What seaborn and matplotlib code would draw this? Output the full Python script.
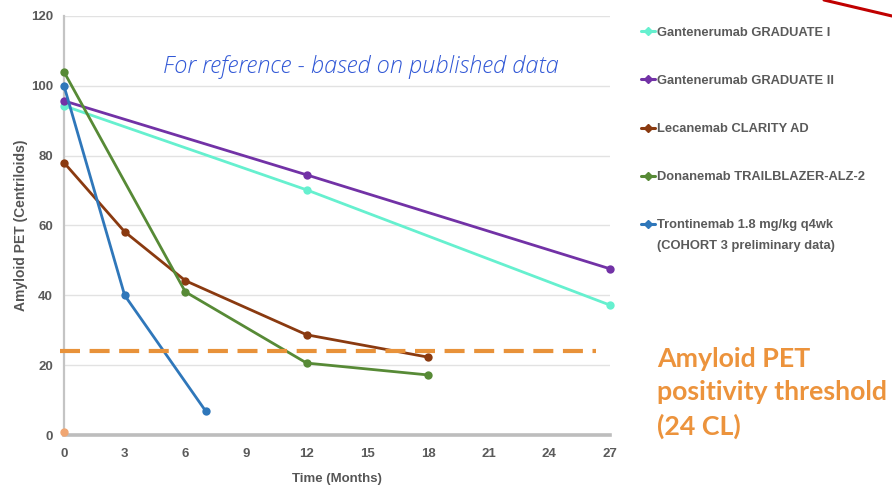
import matplotlib
matplotlib.use("Agg")
import matplotlib.pyplot as plt
from matplotlib.lines import Line2D
import seaborn as sns
import pandas as pd

# Amyloid PET (Centiloids) over time for each trial
grad1_months = [0, 12, 27]
grad1_values = [94.3, 70.2, 37.2]

grad2_months = [0, 12, 27]
grad2_values = [95.7, 74.5, 47.6]

lecan_months = [0, 3, 6, 12, 18]
lecan_values = [78.0, 58.2, 44.2, 28.7, 22.3]

donan_months = [0, 6, 12, 18]
donan_values = [104.0, 41.0, 20.6, 17.2]

tront_months = [0, 3, 7]
tront_values = [100.0, 40.0, 6.9]

baseline_months = [0]
baseline_values = [1.0]

series_names = [
    "Gantenerumab GRADUATE I",
    "Gantenerumab GRADUATE II",
    "Lecanemab CLARITY AD",
    "Donanemab TRAILBLAZER-ALZ-2",
    "Trontinemab 1.8 mg/kg q4wk",
]
tront_note = "(COHORT 3 preliminary data)"
series_colors = ["#66F0CF", "#7232A6", "#8A3A10", "#578A36", "#2F77BA"]

threshold_cl = 24
x_ticks = [0, 3, 6, 9, 12, 15, 18, 21, 24, 27]
y_ticks = [0, 20, 40, 60, 80, 100, 120]

frames = []
for name, months, values in zip(
    series_names,
    [grad1_months, grad2_months, lecan_months, donan_months, tront_months],
    [grad1_values, grad2_values, lecan_values, donan_values, tront_values],
):
    frames.append(pd.DataFrame({"Month": months, "CL": values, "Series": name}))
df = pd.concat(frames, ignore_index=True)

sns.set_style("white")
plt.rcParams["font.family"] = ["Liberation Sans", "DejaVu Sans"]

fig = plt.figure(figsize=(8.92, 4.86), dpi=100)
ax = fig.add_axes([64 / 892, 51 / 486, 546 / 892, 419 / 486])

palette = dict(zip(series_names, series_colors))
sns.lineplot(
    data=df, x="Month", y="CL", hue="Series", hue_order=series_names,
    palette=palette, marker="o", markersize=6, markeredgewidth=0,
    linewidth=2.0, ax=ax, legend=False, clip_on=False, zorder=3,
)
ax.plot(baseline_months, baseline_values, "o", color="#F0A672",
        markersize=5, clip_on=False, zorder=3)

# Positivity threshold
ax.plot([-0.2, 26.3], [threshold_cl, threshold_cl], color="#E8923A",
        linewidth=3, dashes=(4.8, 2.3), clip_on=False, zorder=4)

ax.set_xlim(0, 27)
ax.set_ylim(0, 120)
ax.set_xticks(x_ticks)
ax.set_yticks(y_ticks)
ax.grid(axis="y", color="#E2E2E2", linewidth=1.0)
ax.grid(axis="x", visible=False)
ax.set_axisbelow(True)
for side in ["top", "right"]:
    ax.spines[side].set_visible(False)
ax.spines["left"].set_color("#C4C4C4")
ax.spines["left"].set_linewidth(1.6)
ax.spines["bottom"].set_color("#BDBDBD")
ax.spines["bottom"].set_linewidth(2.6)
ax.tick_params(axis="both", length=0, labelsize=9.5, labelcolor="#5A5A5A")
ax.tick_params(axis="y", pad=8)
ax.tick_params(axis="x", pad=9)
for lbl in ax.get_xticklabels() + ax.get_yticklabels():
    lbl.set_fontweight("bold")

ax.set_xlabel("Time (Months)", fontsize=9.5, fontweight="bold", color="#555555", labelpad=10)
ax.set_ylabel("Amyloid PET (Centriloids)", fontsize=10, fontweight="bold", color="#555555")
ax.yaxis.set_label_coords(-36 / 546, 0.5)

# Legend
legend_font = {"family": ["Liberation Sans", "DejaVu Sans"], "weight": "bold", "size": 9.3}
handles = [Line2D([0], [0], color=c, linewidth=2.2, marker="D", markersize=4)
           for c in series_colors]
leg = fig.legend(handles, series_names, loc="upper left",
                 bbox_to_anchor=(629 / 892, 1 - 15 / 486), frameon=False,
                 handlelength=1.1, handletextpad=0.15, labelspacing=2.8,
                 prop=legend_font)
for t in leg.get_texts():
    t.set_color("#5A5A5A")
fig.text(657 / 892, 1 - 246 / 486, tront_note, color="#5A5A5A",
         va="center", ha="left", fontproperties=matplotlib.font_manager.FontProperties(**legend_font))

fig.text(163 / 892, 1 - 67 / 486, "For reference - based on published data",
         fontsize=17, color="#3158D6", style="italic", fontweight="light",
         family=["Open Sans", "DejaVu Sans"], va="center", ha="left")

fig.text(657 / 892, 1 - 347 / 486, "Amyloid PET\npositivity threshold\n(24 CL)",
         fontsize=19.3, color="#EC933C", fontweight="bold",
         family=["Lato", "Open Sans", "DejaVu Sans"], va="top", ha="left",
         linespacing=1.45)

# Accent stroke in the upper right corner
fig.add_artist(Line2D([824 / 892, 1.0], [1.0, 1 - 16 / 486], color="#C00000",
                      linewidth=2.2, transform=fig.transFigure))

fig.savefig("out.png", dpi=100, facecolor="white")
